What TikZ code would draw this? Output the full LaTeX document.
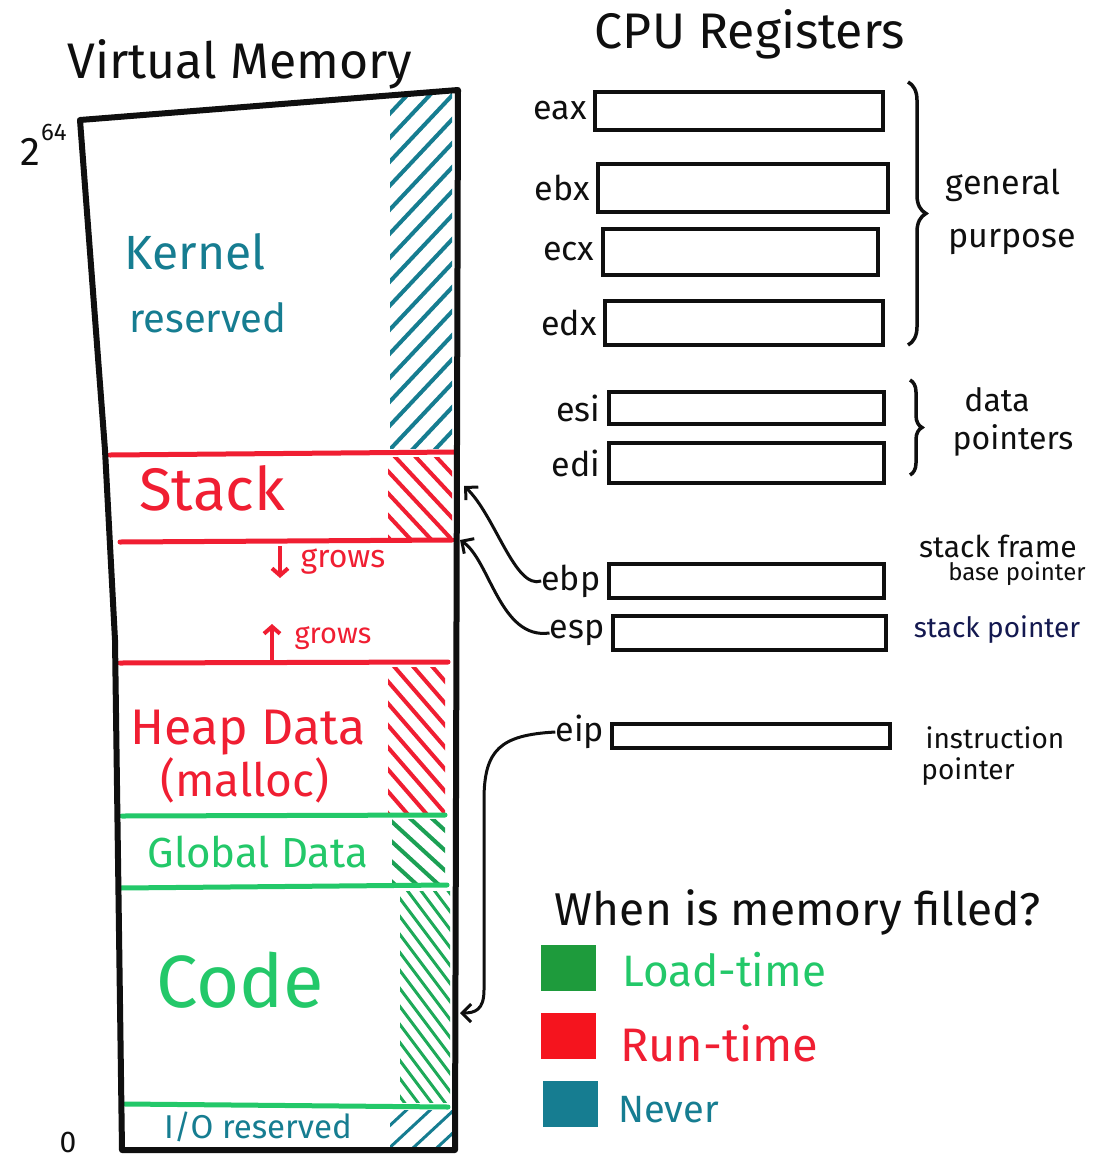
\documentclass[tikz,border=0pt]{standalone}
\usepackage{fontspec}
\setmainfont{Fira Sans}
\usetikzlibrary{arrows.meta,decorations.pathreplacing}
\definecolor{ink}{RGB}{15,15,15}
\definecolor{runred}{RGB}{240,30,50}
\definecolor{loadgreen}{RGB}{35,200,105}
\definecolor{nevteal}{RGB}{22,125,145}
\definecolor{sqgreen}{RGB}{30,155,60}
\definecolor{sqred}{RGB}{245,20,30}
\definecolor{navy}{RGB}{20,25,80}
\newcommand\fsz[1]{\fontsize{#1}{#1}\selectfont}
\begin{document}
\begin{tikzpicture}[x=1pt,y=-1pt,
  outline/.style={draw=ink,line width=6pt,line join=round,line cap=round},
  regbox/.style={draw=ink,line width=4pt,inner sep=0pt},
  divider/.style={line width=5pt,line cap=round},
  hatch/.style={line width=4pt,line cap=round},
  lbl/.style={inner sep=0pt,text=ink},
  ptr/.style={draw=ink,line width=3pt,-{Straight Barb[length=9pt,width=18pt,line width=3pt]}},
  growarrow/.style={draw=runred,line width=4pt,-{Straight Barb[length=7pt,width=16pt,line width=4pt]}},
  brace/.style={draw=ink,line width=3.5pt,decorate},
  legsq/.style={minimum width=55pt,minimum height=46pt,inner sep=0pt},
]
\useasboundingbox (0,0) rectangle (1102,1165);
\fill[white] (0,0) rectangle (1102,1165);

% ---------- hatching strips along the right side of the memory column ----------
\begin{scope}
  \clip (390,92) rectangle (452,448);
  \foreach \y in {100,124,...,560} \draw[hatch,nevteal] (380,\y) -- (460,\y-85);
\end{scope}
\begin{scope}
  \clip (388,457) rectangle (452,537);
  \foreach \y in {380,402,...,560} \draw[hatch,runred] (385,\y) -- (455,\y+75);
\end{scope}
\begin{scope}
  \clip (388,667) rectangle (445,812);
  \foreach \y in {590,612,...,820} \draw[hatch,runred] (385,\y) -- (450,\y+75);
\end{scope}
\begin{scope}
  \clip (392,819) rectangle (445,884);
  \foreach \y in {780,800,...,890} \draw[hatch,loadgreen!80!black] (390,\y) -- (450,\y+55);
\end{scope}
\begin{scope}
  \clip (400,891) rectangle (450,1102);
  \foreach \y in {820,838,...,1110} \draw[hatch,line width=3pt,loadgreen!85!black] (395,\y) -- (455,\y+80);
\end{scope}
\begin{scope}
  \clip (390,1110) rectangle (452,1150);
  \foreach \y in {1130,1152,...,1220} \draw[hatch,line width=3pt,nevteal] (385,\y) -- (455,\y-65);
\end{scope}

% ---------- region dividers ----------
\draw[divider,runred]   (110,455) -- (455,452);
\draw[divider,runred]   (120,542) -- (452,540);
\draw[divider,runred]   (120,663) -- (448,662);
\draw[divider,loadgreen] (122,816) -- (445,815);
\draw[divider,loadgreen] (120,888) -- (447,885);
\draw[divider,loadgreen] (125,1104) -- (448,1107);

% ---------- memory column outline ----------
\draw[outline] (80,120) -- (458,90) -- (455,1150) -- (122,1150) -- (115,640) -- (105,450) -- cycle;

% ---------- memory labels ----------
\node[lbl] (vmtitle) at (240,64) {\fsz{50}Virtual Memory};
\node[lbl,anchor=base] (top2) at (30,165) {\fsz{40}2};
\node[lbl,anchor=base west] (top64) at (41,140) {\fsz{24}64};
\node[lbl] (zero) at (68,1142) {\fsz{30}0};

\node[lbl,text=nevteal] (kernel) at (195,252) {\fsz{48}Kernel};
\node[lbl,text=nevteal] (kres) at (208,318) {\fsz{40}reserved};
\node[lbl,text=runred] (stack) at (212,488) {\fsz{60}Stack};
\draw[growarrow] (280,546) -- (280,578);
\node[lbl,text=runred] (growdown) at (343,562) {\fsz{32}grows};
\draw[growarrow] (272,660) -- (272,624);
\node[lbl,text=runred] (growup) at (333,638) {\fsz{29}grows};
\node[lbl,text=runred] (heap) at (248,733) {\fsz{50}Heap Data};
\node[lbl,text=runred] (malloc) at (245,780) {\fsz{46}(malloc)};
\node[lbl,text=loadgreen] (global) at (258,852) {\fsz{42}Global Data};
\node[lbl,text=loadgreen] (code) at (240,980) {\fsz{74}Code};
\node[lbl,text=nevteal] (iores) at (258,1127) {\fsz{33}I/O reserved};

% ---------- CPU registers ----------
\node[lbl] (cputitle) at (750,34) {\fsz{50}CPU Registers};

\node[regbox,minimum width=288pt,minimum height=38pt] (rax) at (739,111) {};
\node[regbox,minimum width=290pt,minimum height=48pt] (rbx) at (743,188) {};
\node[regbox,minimum width=275pt,minimum height=46pt] (rcx) at (740,252) {};
\node[regbox,minimum width=278pt,minimum height=44pt] (rdx) at (744,323) {};
\node[regbox,minimum width=275pt,minimum height=32pt] (rsi) at (746,408) {};
\node[regbox,minimum width=275pt,minimum height=40pt] (rdi) at (746,463) {};
\node[regbox,minimum width=275pt,minimum height=34pt] (rbp) at (746,581) {};
\node[regbox,minimum width=273pt,minimum height=34pt] (rsp) at (749,633) {};
\node[regbox,minimum width=278pt,minimum height=24pt] (rip) at (751,736) {};

\node[lbl,anchor=east] (lax) at ([xshift=-6pt]rax.west) {\fsz{34}eax};
\node[lbl,anchor=east] (lbx) at ([xshift=-6pt]rbx.west) {\fsz{34}ebx};
\node[lbl,anchor=east] (lcx) at ([xshift=-6pt]rcx.west) {\fsz{34}ecx};
\node[lbl,anchor=east] (ldx) at ([xshift=-6pt]rdx.west) {\fsz{34}edx};
\node[lbl,anchor=east] (lsi) at ([xshift=-6pt]rsi.west) {\fsz{34}esi};
\node[lbl,anchor=east] (ldi) at ([xshift=-6pt]rdi.west) {\fsz{34}edi};
\node[lbl,anchor=east] (lbp) at ([xshift=-6pt]rbp.west) {\fsz{34}ebp};
\node[lbl,anchor=east] (lsp) at ([xshift=-6pt]rsp.west) {\fsz{34}esp};
\node[lbl,anchor=east] (lip) at ([xshift=-6pt,yshift=4pt]rip.west) {\fsz{34}eip};

% groups and descriptions
\draw[brace,decoration={brace,amplitude=18pt}] (908,82) -- (908,345);
\node[lbl] (gen) at (1003,185) {\fsz{34}general};
\node[lbl] (purp) at (1012,242) {\fsz{34}purpose};
\draw[brace,decoration={brace,amplitude=12pt}] (910,380) -- (910,475);
\node[lbl] (data) at (997,400) {\fsz{32}data};
\node[lbl] (dptr) at (1013,440) {\fsz{32}pointers};
\node[lbl] (sframe) at (998,546) {\fsz{30}stack frame};
\node[lbl] (bptr) at (1017,574) {\fsz{24}base pointer};
\node[lbl,text=navy] (sptr) at (997,630) {\fsz{28}stack pointer};
\node[lbl] (instr) at (995,738) {\fsz{28}instruction};
\node[lbl] (iptr) at (968,772) {\fsz{28}pointer};

% ---------- pointers into memory ----------
\coordinate (mstk) at (464,486);
\coordinate (mesp) at (460,540);
\coordinate (meip) at (460,1013);
\draw[ptr] (lbp.west) .. controls (515,590) and (495,515) .. (mstk);
\draw[ptr] (lsp.west) .. controls (500,640) and (490,560) .. (mesp);
\draw[ptr] (lip.west) .. controls (500,735) and (484,750) .. (484,800) -- (484,990) .. controls (484,1010) and (475,1013) .. (meip);

% ---------- legend ----------
\node[lbl] (legtitle) at (798,912) {\fsz{46}When is memory filled?};
\node[legsq,fill=sqgreen] (sqload) at (568,968) {};
\node[legsq,fill=sqred] (sqrun) at (568,1036) {};
\node[legsq,fill=nevteal] (sqnev) at (570,1104) {};
\node[lbl,text=loadgreen,anchor=west] (tload) at (622,970) {\fsz{44}Load-time};
\node[lbl,text=runred,anchor=west] (trun) at (620,1043) {\fsz{47}Run-time};
\node[lbl,text=nevteal,anchor=west] (tnev) at (618,1110) {\fsz{38}Never};
\end{tikzpicture}
\end{document}
